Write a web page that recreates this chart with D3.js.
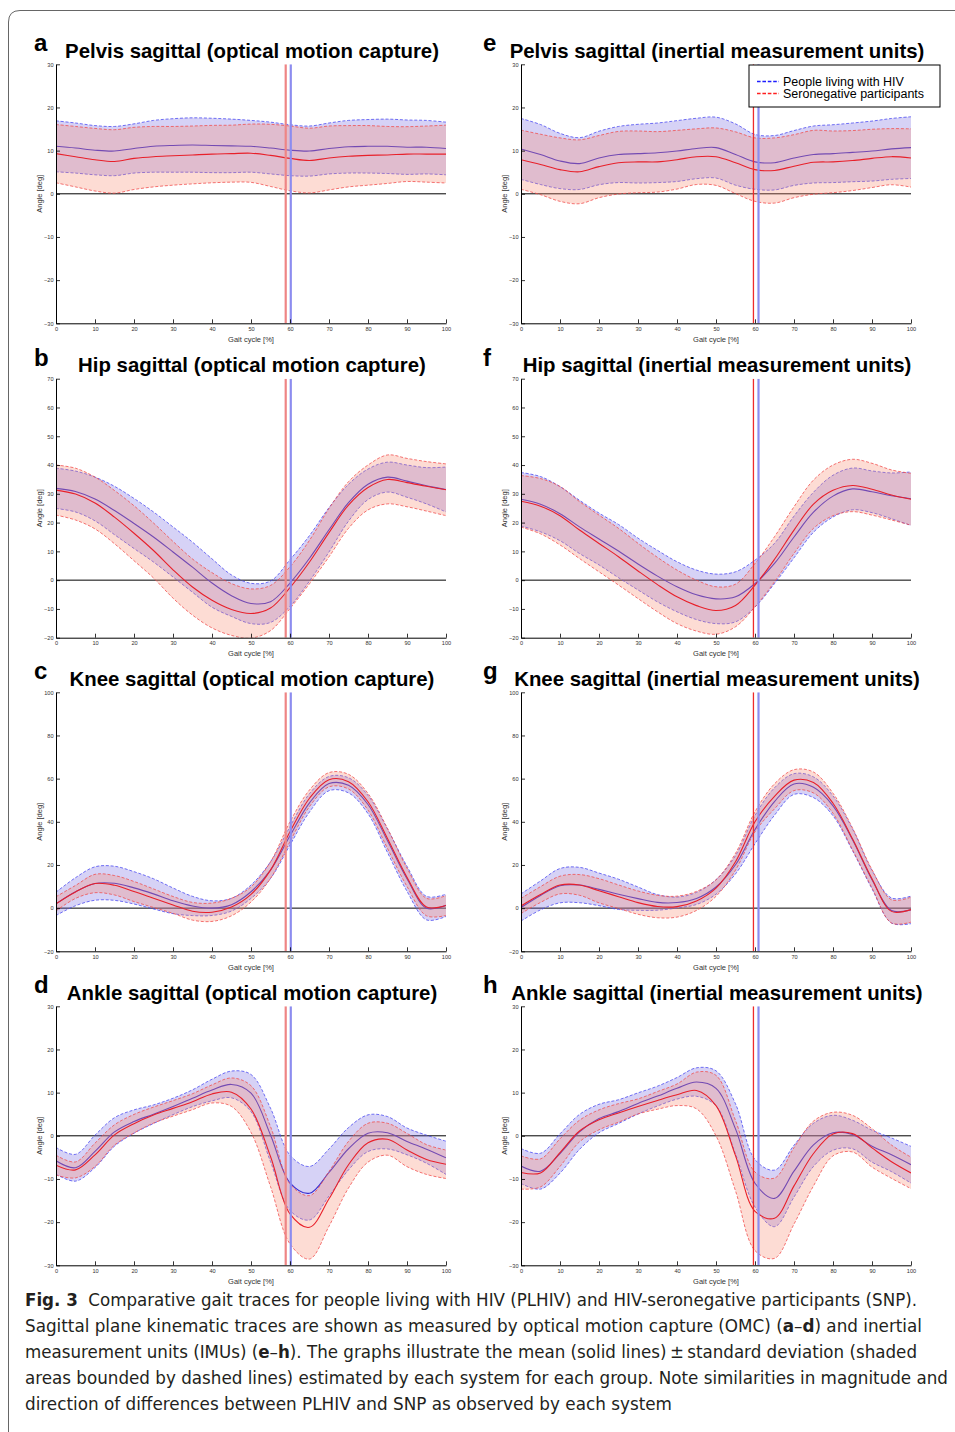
<!DOCTYPE html>
<html>
<head>
<meta charset="utf-8">
<script src="https://cdn.jsdelivr.net/npm/d3@7"></script>
<style>
body { margin: 0; background: #fff; }
svg text { font-family: "Liberation Sans", Arial, Helvetica, sans-serif; }
</style>
</head>
<body>
<svg id="fig" width="955" height="1432"></svg>
<script>
// gait cycle samples (%)
const gaitPct = [0,5,10,15,20,25,30,35,40,45,50,55,60,65,70,75,80,85,90,95,100];

// pelvis, optical motion capture
const pelvisOmcHivMean = [11.0,10.6,10.1,9.9,10.5,11.0,11.2,11.3,11.2,11.1,11.0,10.6,10.1,9.9,10.5,10.9,11.0,11.0,10.8,10.8,10.5];
const pelvisOmcHivSd   = [5.9,5.8,5.7,5.7,5.7,6.0,6.2,6.3,6.3,6.2,6.0,6.0,5.9,5.8,5.9,6.1,6.2,6.3,6.3,6.2,6.1];
const pelvisOmcSnpMean = [9.3,8.6,7.9,7.5,8.2,8.6,8.8,9.0,9.2,9.3,9.4,8.9,8.2,7.7,8.3,8.7,8.9,9.0,9.2,9.2,9.2];
const pelvisOmcSnpSd   = [6.75,7.0,7.25,7.35,7.2,7.0,6.8,6.7,6.65,6.6,6.75,7.2,7.5,7.5,7.4,7.1,6.9,6.6,6.35,6.5,6.7];
// pelvis, inertial measurement units
const pelvisImuHivMean = [10.4,9.1,7.6,7.0,8.3,9.1,9.3,9.5,9.9,10.5,10.7,9.1,7.4,7.2,8.3,9.1,9.3,9.6,9.9,10.4,10.7];
const pelvisImuHivSd   = [7.05,6.95,6.4,6.0,6.2,6.5,6.8,6.9,7.05,7.0,7.05,7.1,6.35,6.3,6.35,6.6,6.7,6.8,6.95,7.05,7.15];
const pelvisImuSnpMean = [7.9,6.8,5.6,5.1,6.3,7.2,7.4,7.4,7.9,8.6,8.6,7.2,5.6,5.4,6.4,7.3,7.4,7.7,8.2,8.6,8.3];
const pelvisImuSnpSd   = [6.85,7.0,7.35,7.4,7.2,7.25,7.15,7.0,6.8,6.45,6.65,7.15,7.35,7.55,7.3,7.4,7.15,6.95,6.75,6.5,6.75];
// hip
const hipOmcHivMean = [31.9,30.8,28.2,24.2,19.7,15.0,9.8,4.5,-1.0,-5.4,-8.1,-7.5,-1.0,7.6,17.5,26.9,33.3,35.8,34.4,32.8,31.5];
const hipOmcHivSd   = [7.0,7.1,7.6,8.4,8.7,8.7,8.7,8.7,8.4,7.2,7.0,7.2,8.1,7.9,7.7,6.4,5.3,5.2,5.6,6.3,7.8];
const hipOmcSnpMean = [31.3,29.9,26.8,21.9,16.3,10.3,3.6,-2.4,-7.0,-10.2,-11.6,-9.7,-2.6,6.3,16.5,26.1,32.2,35.0,33.9,32.6,31.4];
const hipOmcSnpSd   = [8.7,9.0,9.0,9.25,9.55,9.55,9.85,9.75,9.6,9.0,8.55,7.85,7.25,7.55,8.4,8.1,7.8,8.5,8.4,8.6,9.0];
const hipImuHivMean = [28.1,26.4,23.1,18.5,14.3,10.1,5.6,1.4,-2.3,-5.1,-6.5,-5.8,-1.2,5.8,15.0,23.6,29.2,31.7,30.7,29.3,28.3];
const hipImuHivSd   = [9.3,9.6,9.4,9.25,9.0,9.25,9.0,8.95,8.7,8.6,8.6,8.7,8.15,7.0,7.25,6.95,7.25,7.25,7.25,7.95,9.3];
const hipImuSnpMean = [27.4,25.7,22.4,17.4,12.75,8.15,3.2,-1.55,-5.8,-8.85,-10.55,-8.8,-1.75,7.25,17.4,26.4,31.2,32.9,31.6,29.6,28.1];
const hipImuSnpSd   = [8.95,9.6,10.15,9.9,9.85,9.85,9.6,9.45,9.3,8.85,8.25,7.4,7.55,7.85,8.1,8.4,8.8,9.1,9.0,8.7,9.0];
// knee
const kneeOmcHivMean = [2.0,7.6,11.4,11.5,9.4,6.6,3.4,1.0,0.0,1.6,7.6,17.6,33.5,48.8,57.7,56.9,48.0,31.2,13.6,0.0,1.3];
const kneeOmcHivSd   = [5.4,6.5,7.75,7.9,7.5,7.0,5.95,4.45,3.4,2.95,3.1,3.85,4.25,4.25,3.3,3.5,4.25,5.45,5.8,5.45,5.15];
const kneeOmcSnpMean = [2.0,7.5,11.4,10.6,7.7,4.6,1.5,-1.45,-1.9,0.5,6.35,17.6,35.4,50.9,59.5,58.6,49.3,32.3,14.3,0.5,1.2];
const kneeOmcSnpSd   = [3.3,3.0,4.25,4.5,4.65,4.3,3.9,4.1,4.25,4.05,3.5,3.85,4.6,3.85,3.3,3.4,3.85,4.65,4.25,4.05,4.6];
const kneeImuHivMean = [0.3,5.9,10.4,10.7,8.7,6.4,4.4,2.65,2.6,4.5,9.8,20.1,36.4,49.4,57.5,56.0,47.4,31.7,13.2,-1.1,-0.8];
const kneeImuHivSd   = [6.3,6.7,7.95,8.2,7.55,7.0,5.4,3.6,2.55,2.8,3.35,4.25,6.55,6.35,4.8,4.8,4.6,5.05,4.25,5.8,6.4];
const kneeImuSnpMean = [1.0,6.3,10.7,10.75,8.05,5.3,2.55,0.75,0.7,3.35,9.3,21.5,40.0,51.8,59.3,58.2,48.6,32.1,13.6,-1.5,-0.7];
const kneeImuSnpSd   = [3.5,3.65,4.1,4.8,5.6,5.45,5.4,5.2,4.85,4.4,3.85,3.9,4.65,5.8,4.85,4.85,4.65,5.05,4.25,5.4,5.8];
// ankle
const ankleOmcHivMean = [-5.8,-7.4,-3.6,0.9,3.3,5.0,6.8,8.7,10.6,11.9,9.9,0.2,-10.9,-13.3,-8.5,-3.0,0.6,0.7,-1.3,-3.1,-5.1];
const ankleOmcHivSd   = [3.1,3.1,3.75,3.3,2.7,2.15,1.9,1.95,2.5,3.1,4.3,6.2,6.4,6.2,5.45,4.9,4.25,3.75,3.1,3.25,3.85];
const ankleOmcSnpMean = [-6.8,-7.9,-4.4,0.2,2.8,4.8,6.35,7.9,9.7,10.1,6.2,-4.8,-18.1,-21.2,-14.6,-6.7,-1.6,-0.8,-3.3,-5.5,-6.6];
const ankleOmcSnpSd   = [2.3,1.85,2.7,2.35,2.15,1.85,1.8,1.85,2.1,3.3,5.4,6.95,6.95,7.35,6.35,5.4,4.5,3.7,3.85,3.45,3.3];
const ankleImuHivMean = [-7.0,-8.2,-4.1,0.9,4.0,5.6,7.5,9.2,11.0,12.45,11.0,1.6,-11.0,-14.5,-8.2,-2.1,0.7,0.3,-2.4,-4.4,-6.7];
const ankleImuHivSd   = [4.05,4.15,4.55,4.05,3.3,2.75,2.45,2.3,2.5,3.3,4.05,5.8,5.5,6.55,6.0,5.0,4.05,3.3,3.7,3.9,4.25];
const ankleImuSnpMean = [-8.5,-8.6,-3.9,1.1,3.7,5.3,6.8,8.2,9.5,10.5,7.0,-4.6,-17.5,-19.1,-11.6,-4.1,0.4,0.5,-2.8,-6.0,-8.6];
const ankleImuSnpSd   = [3.85,3.25,3.2,2.5,2.3,2.15,1.75,2.05,2.5,4.25,7.0,8.15,9.1,9.3,8.85,7.5,5.05,4.25,4.45,3.85,3.65];

// toe-off (% gait cycle): [OMC, IMU]
const toeOffHiv = [60.2, 60.9];
const toeOffSnp = [58.9, 59.6];

const jointNames   = ["Pelvis", "Hip", "Knee", "Ankle"];
const systemNames  = ["optical motion capture", "inertial measurement units"];
const panelLetters = [["a","b","c","d"], ["e","f","g","h"]];
const yDomains     = [[-30,30], [-20,70], [-20,100], [-30,30]];
const yTickSteps   = [10, 10, 20, 10];
const legendLabels = ["People living with HIV", "Seronegative participants"];

const seriesTable = [
	[[pelvisOmcHivMean,pelvisOmcHivSd,pelvisOmcSnpMean,pelvisOmcSnpSd],[pelvisImuHivMean,pelvisImuHivSd,pelvisImuSnpMean,pelvisImuSnpSd]],
	[[hipOmcHivMean,hipOmcHivSd,hipOmcSnpMean,hipOmcSnpSd],[hipImuHivMean,hipImuHivSd,hipImuSnpMean,hipImuSnpSd]],
	[[kneeOmcHivMean,kneeOmcHivSd,kneeOmcSnpMean,kneeOmcSnpSd],[kneeImuHivMean,kneeImuHivSd,kneeImuSnpMean,kneeImuSnpSd]],
	[[ankleOmcHivMean,ankleOmcHivSd,ankleOmcSnpMean,ankleOmcSnpSd],[ankleImuHivMean,ankleImuHivSd,ankleImuSnpMean,ankleImuSnpSd]]
];

// layout
const colLeft  = [56, 521];
const letterX  = [34, 483];
const rowTop   = [64.3, 378.7, 692.3, 1006.3];
const plotW    = 390;
const plotH    = 259;

const hivCol = { fill:"#6a5fe0", fillOp:0.28, dash:"#4646f0", mean:"#3a2fd0", vline:"#8c8cef" };
const snpCol = { fill:"#f88a70", fillOp:0.30, dash:"#f04a4a", mean:"#e8202a" };

const svg = d3.select("#fig");

// outer frame with rounded corner
svg.append("path")
	.attr("d", "M8.5,1432 V22 Q8.5,10.5 20,10.5 H955")
	.attr("fill", "none")
	.attr("stroke", "#666")
	.attr("stroke-width", 1);

function drawPanel(row, col){
	const left = colLeft[col], top = rowTop[row];
	const [hivMean, hivSd, snpMean, snpSd] = seriesTable[row][col];
	const x = d3.scaleLinear().domain([0,100]).range([left, left + plotW]);
	const y = d3.scaleLinear().domain(yDomains[row]).range([top + plotH, top]);
	const clipId = "clip" + row + col;

	svg.append("clipPath").attr("id", clipId)
		.append("rect").attr("x", left).attr("y", top).attr("width", plotW).attr("height", plotH);

	const g = svg.append("g").attr("clip-path", "url(#" + clipId + ")");

	// zero line
	g.append("line")
		.attr("x1", x(0)).attr("x2", x(100))
		.attr("y1", y(0)).attr("y2", y(0))
		.attr("stroke", "#000").attr("stroke-width", 1);

	const curve = d3.curveCatmullRom.alpha(0.5);

	function group(mean, sd, c){
		const band = d3.area()
			.x((d,i) => x(gaitPct[i]))
			.y0((d,i) => y(mean[i] - sd[i]))
			.y1((d,i) => y(mean[i] + sd[i]))
			.curve(curve);
		g.append("path").datum(mean)
			.attr("d", band)
			.attr("fill", c.fill)
			.attr("fill-opacity", c.fillOp);
		[-1, 1].forEach(s => {
			const edge = d3.line()
				.x((d,i) => x(gaitPct[i]))
				.y((d,i) => y(mean[i] + s * sd[i]))
				.curve(curve);
			g.append("path").datum(mean)
				.attr("d", edge)
				.attr("fill", "none")
				.attr("stroke", c.dash)
				.attr("stroke-width", 0.9)
				.attr("stroke-dasharray", "3,1.8")
				.attr("opacity", 0.85);
		});
		const ln = d3.line().x((d,i) => x(gaitPct[i])).y(d => y(d)).curve(curve);
		g.append("path").datum(mean)
			.attr("d", ln)
			.attr("fill", "none")
			.attr("stroke", c.mean)
			.attr("stroke-width", 1.1);
	}
	group(hivMean, hivSd, hivCol);
	group(snpMean, snpSd, snpCol);

	// toe-off lines
	const isOmc = col === 0;
	g.append("line")
		.attr("x1", x(toeOffSnp[col])).attr("x2", x(toeOffSnp[col]))
		.attr("y1", top).attr("y2", top + plotH)
		.attr("stroke", isOmc ? "#ee8585" : "#ee2a2a")
		.attr("stroke-width", isOmc ? 2.2 : 1.3);
	g.append("line")
		.attr("x1", x(toeOffHiv[col])).attr("x2", x(toeOffHiv[col]))
		.attr("y1", top).attr("y2", top + plotH)
		.attr("stroke", hivCol.vline)
		.attr("stroke-width", 2.2);

	// axes (MATLAB style, inward ticks)
	const yTicks = d3.range(yDomains[row][0], yDomains[row][1] + 0.1, yTickSteps[row]);
	const yAxis = svg.append("g")
		.attr("transform", "translate(" + left + ",0)")
		.call(d3.axisLeft(y).tickValues(yTicks).tickSizeInner(-4).tickSizeOuter(0).tickPadding(2.5));
	const xAxis = svg.append("g")
		.attr("transform", "translate(0," + (top + plotH) + ")")
		.call(d3.axisBottom(x).tickValues(gaitPct.filter(v => v % 10 === 0)).tickSizeInner(-4).tickSizeOuter(0).tickPadding(3.5));
	[xAxis, yAxis].forEach(a => {
		a.select(".domain").attr("stroke", "#000").attr("stroke-width", 1);
		a.selectAll(".tick line").attr("stroke", "#000").attr("stroke-width", 0.8);
		a.selectAll(".tick text")
			.attr("fill", "#333")
			.style("font-size", "5.6px")
			.style("font-family", "'Liberation Sans', Arial, sans-serif");
	});

	svg.append("text")
		.attr("x", left + plotW / 2).attr("y", top + plotH + 18.5)
		.attr("text-anchor", "middle")
		.attr("fill", "#333")
		.style("font-size", "7.5px")
		.text("Gait cycle [%]");
	svg.append("text")
		.attr("transform", "translate(" + (left - 14.5) + "," + (top + plotH / 2) + ") rotate(-90)")
		.attr("text-anchor", "middle")
		.attr("fill", "#333")
		.style("font-size", "7.5px")
		.text("Angle [deg]");

	// panel letter and title
	svg.append("text")
		.attr("x", letterX[col]).attr("y", top - 13)
		.style("font-size", "24px").style("font-weight", "bold")
		.text(panelLetters[col][row]);
	svg.append("text")
		.attr("x", left + plotW / 2 + 1).attr("y", top - 6.5)
		.attr("text-anchor", "middle")
		.style("font-size", "20.4px").style("font-weight", "bold")
		.text(jointNames[row] + " sagittal (" + systemNames[col] + ")");
}

for (let r = 0; r < 4; r++){
	for (let c = 0; c < 2; c++){ drawPanel(r, c); }
}

// legend in panel e
const lg = svg.append("g");
lg.append("rect")
	.attr("x", 749).attr("y", 65).attr("width", 191).attr("height", 42)
	.attr("fill", "#fff").attr("stroke", "#000").attr("stroke-width", 1);
["#1f1fff", "#ff2020"].forEach((clr, i) => {
	const by = 85.5 + i * 12;
	lg.append("line")
		.attr("x1", 757).attr("x2", 779).attr("y1", by - 4).attr("y2", by - 4)
		.attr("stroke", clr)
		.attr("stroke-width", 1.4)
		.attr("stroke-dasharray", "3.6,1.8");
	lg.append("text")
		.attr("x", 783).attr("y", by)
		.style("font-size", "12.5px")
		.text(legendLabels[i]);
});

// caption
const capLines = [
	{ w: 892, parts: [["Fig. 3", true], ["  Comparative gait traces for people living with HIV (PLHIV) and HIV-seronegative participants (SNP).", false]] },
	{ w: 897, parts: [["Sagittal plane kinematic traces are shown as measured by optical motion capture (OMC) (", false], ["a", true], ["\u2013", false], ["d", true], [") and inertial", false]] },
	{ w: 892, parts: [["measurement units (IMUs) (", false], ["e", true], ["\u2013", false], ["h", true], ["). The graphs illustrate the mean (solid lines)\u2009\u00b1\u2009standard deviation (shaded", false]] },
	{ w: 923, parts: [["areas bounded by dashed lines) estimated by each system for each group. Note similarities in magnitude and", false]] },
	{ w: 647, parts: [["direction of differences between PLHIV and SNP as observed by each system", false]] }
];
capLines.forEach((ln, i) => {
	const t = svg.append("text")
		.attr("x", 25).attr("y", 1306 + i * 26)
		.attr("fill", "#231f20")
		.attr("textLength", ln.w)
		.attr("lengthAdjust", "spacingAndGlyphs")
		.style("font-family", "'DejaVu Sans Condensed', 'Liberation Sans Narrow', 'Open Sans', sans-serif")
		.style("font-stretch", "condensed")
		.style("font-size", "18.5px")
		.attr("xml:space", "preserve");
	ln.parts.forEach(p => {
		t.append("tspan").style("font-weight", p[1] ? "bold" : "normal").text(p[0]);
	});
});
</script>
</body>
</html>
